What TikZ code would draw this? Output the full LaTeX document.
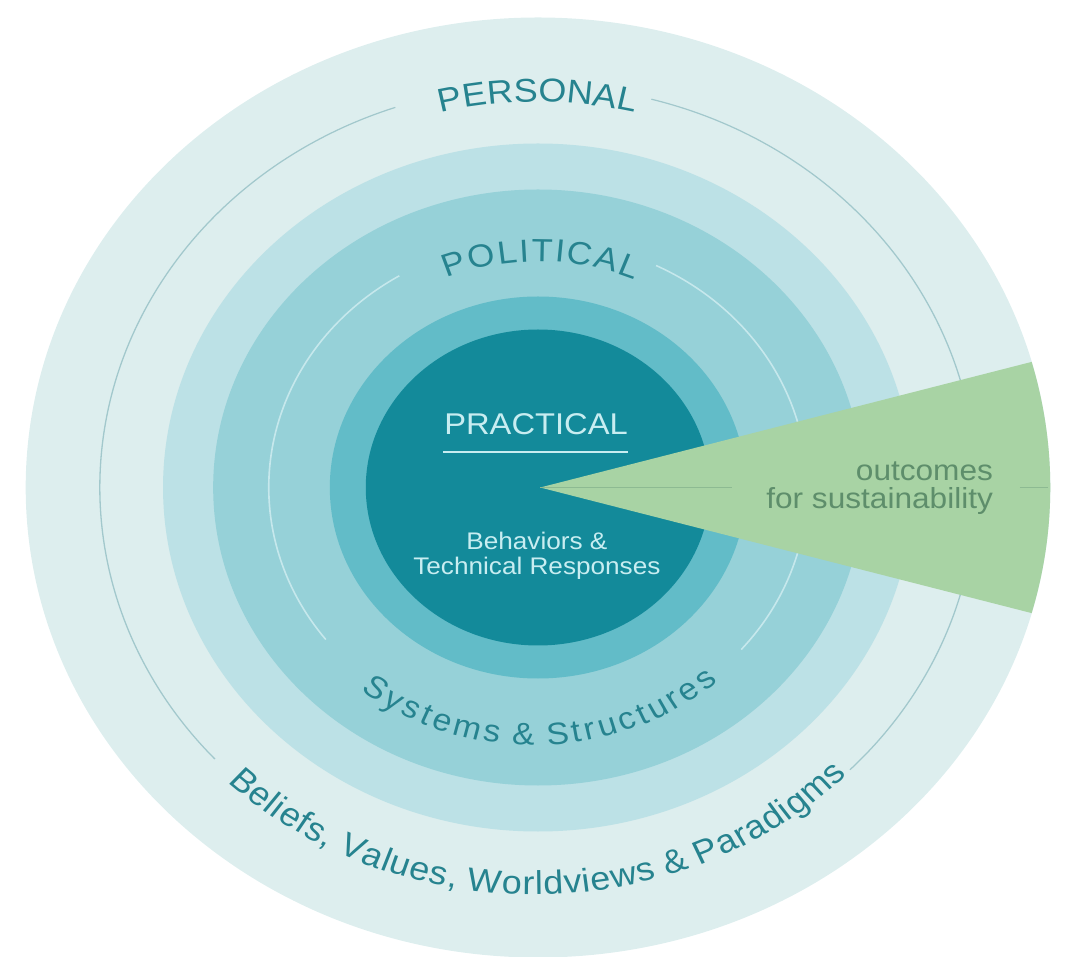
\documentclass[tikz,border=0pt]{standalone}
\usepackage{fontspec}
\setmainfont{Liberation Sans}
\usetikzlibrary{decorations.text}
\newcommand{\lsA}{\kern3.4pt}
\newcommand{\lsB}{\kern1.6pt}
\newcommand{\lsC}{\kern0.8pt}
\definecolor{paleC}{HTML}{DDEEEE}
\definecolor{lightC}{HTML}{BCE1E6}
\definecolor{midC}{HTML}{96D1D8}
\definecolor{medC}{HTML}{62BCC8}
\definecolor{darkC}{HTML}{138A9A}
\definecolor{wedgeC}{HTML}{A8D3A4}
\definecolor{wlineC}{HTML}{8DBA92}
\definecolor{olineC}{HTML}{A2C8CC}
\definecolor{ilineC}{HTML}{C6E8EC}
\definecolor{labC}{HTML}{26838F}
\definecolor{pracC}{HTML}{C8EDF1}
\definecolor{outC}{HTML}{5E8E6B}
\tikzset{
  outerline/.style={draw=olineC, line width=1.2pt},
  innerline/.style={draw=ilineC, line width=1.5pt},
  wline/.style={draw=wlineC, line width=1.6pt},
  plain/.style={inner sep=0pt, outer sep=0pt},
  arclabel/.style={decorate, decoration={text along path, text align=center, text color=labC, text={#1}}},
}
\begin{document}
\begin{tikzpicture}[x=1pt,y=1pt]
\useasboundingbox (-538,-469.5) rectangle (529,487.5);
\begin{scope}[transform canvas={xscale=1.09}]
  % rings
  \fill[paleC]  (0,0) circle[radius=470pt];
  \fill[lightC] (0,0) circle[radius=344pt];
  \fill[midC]   (0,0) circle[radius=298pt];
  % inner thin line
  \draw[innerline] (64:247pt) arc[start angle=64, end angle=-41, radius=247pt];
  \draw[innerline] (121:247pt) arc[start angle=121, end angle=218, radius=247pt];
  \fill[medC]  (0,0) circle[radius=191pt];
  \fill[darkC] (0,0) circle[radius=158pt];
  % outer thin line
  \draw[outerline] (75:402pt) arc[start angle=75, end angle=-44.6, radius=402pt];
  \draw[outerline] (109:402pt) arc[start angle=109, end angle=222.5, radius=402pt];
  % wedge
  \coordinate (tip) at (2,0);
  \fill[wedgeC] (tip) -- (-15.5:470pt) arc[start angle=-15.5, end angle=15.5, radius=470pt] -- cycle;
  \coordinate (w1) at (178,0);
  \coordinate (w2) at (442,0);
  \coordinate (w3) at (468,0);
  \draw[wline] (tip) -- (w1);
  \draw[wline] (w2) -- (w3);
  \node[plain, anchor=base east, text=outC, font=\fontsize{29}{29}\selectfont] (out1) at (417.4,6.5) {outcomes};
  \node[plain, anchor=base east, text=outC, font=\fontsize{29}{29}\selectfont] (out2) at (417.4,-21.5) {for sustainability};
  % centre texts
  \node[plain, anchor=base, text=pracC, font=\fontsize{30}{30}\selectfont] (prac) at (-1.8,52.5) {PRACTICAL};
  \coordinate (ul1) at (-87,35.8);
  \coordinate (ul2) at (82.6,35.8);
  \draw[pracC, line width=2pt] (ul1) -- (ul2);
  \node[plain, anchor=base, text=pracC, font=\fontsize{24}{24}\selectfont] (beh1) at (-1,-62.5) {Behaviors \&};
  \node[plain, anchor=base, text=pracC, font=\fontsize{24}{24}\selectfont] (beh2) at (-1,-87.5) {Technical Responses};
  % curved labels
  \path[arclabel={|\fontsize{33}{33}\selectfont|PERSONAL}]
      (140:385.5pt) arc[start angle=140, end angle=40, radius=385.5pt];
  \path[arclabel={|\fontsize{32}{32}\selectfont|{P\lsB}{O\lsB}{L\lsB}{I\lsB}{T\lsB}{I\lsB}{C\lsB}{A\lsB}{L}}]
      (151.3:226pt) arc[start angle=151.3, end angle=27.3, radius=226pt];
  \path[shift={(-4pt,0pt)}, arclabel={|\fontsize{31}{31}\selectfont|{S\lsA}{y\lsA}{s\lsA}{t\lsA}{e\lsA}{m\lsA}{s\lsA} {\&\lsA} {S\lsA}{t\lsA}{r\lsA}{u\lsA}{c\lsA}{t\lsA}{u\lsA}{r\lsA}{e\lsA}{s}}]
      (195.5:257.5pt) arc[start angle=195.5, end angle=347.5, radius=257.5pt];
  \path[shift={(-4pt,0pt)}, arclabel={|\fontsize{33}{33}\selectfont|{B\lsC}{e\lsC}{l\lsC}{i\lsC}{e\lsC}{f\lsC}{s\lsC}{,\lsC} {V\lsC}{a\lsC}{l\lsC}{u\lsC}{e\lsC}{s\lsC}{,\lsC} {W\lsC}{o\lsC}{r\lsC}{l\lsC}{d\lsC}{v\lsC}{i\lsC}{e\lsC}{w\lsC}{s\lsC} {\&\lsC} {P\lsC}{a\lsC}{r\lsC}{a\lsC}{d\lsC}{i\lsC}{g\lsC}{m\lsC}{s}}]
      (201:407pt) arc[start angle=201, end angle=340.4, radius=407pt];
\end{scope}
\end{tikzpicture}
\end{document}
